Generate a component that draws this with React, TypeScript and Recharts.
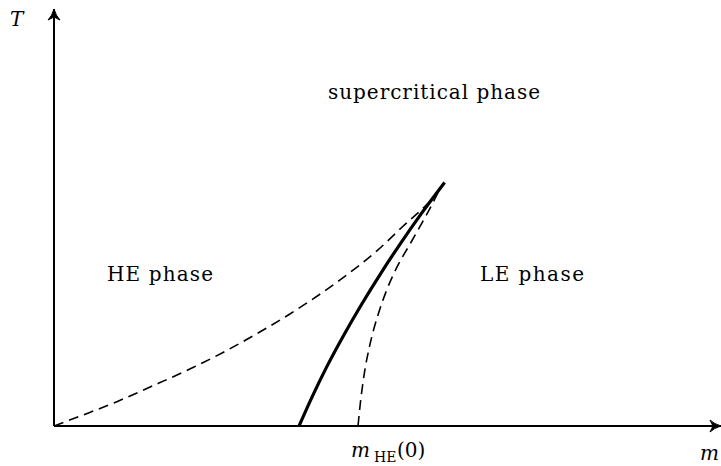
import { ComposedChart, Line, XAxis, YAxis, ReferenceDot, ReferenceLine } from 'recharts'

// m measured in units of m_HE(0), T in units of the critical temperature
const spinodalHE = [
  { m: 0, T: 0 },
  { m: 0.095, T: 0.045 },
  { m: 0.207, T: 0.1 },
  { m: 0.316, T: 0.16 },
  { m: 0.457, T: 0.24 },
  { m: 0.556, T: 0.302 },
  { m: 0.635, T: 0.356 },
  { m: 0.776, T: 0.46 },
  { m: 0.941, T: 0.6 },
  { m: 1.063, T: 0.72 },
  { m: 1.148, T: 0.82 },
  { m: 1.227, T: 0.91 },
  { m: 1.26, T: 0.955 },
]

const coexistence = [
  { m: 0.806, T: 0 },
  { m: 0.851, T: 0.125 },
  { m: 0.9, T: 0.25 },
  { m: 0.954, T: 0.375 },
  { m: 1.012, T: 0.5 },
  { m: 1.074, T: 0.625 },
  { m: 1.14, T: 0.75 },
  { m: 1.21, T: 0.875 },
  { m: 1.285, T: 1.0 },
]

const spinodalLE = [
  { m: 1.0, T: 0 },
  { m: 1.007, T: 0.086 },
  { m: 1.02, T: 0.21 },
  { m: 1.039, T: 0.333 },
  { m: 1.066, T: 0.457 },
  { m: 1.095, T: 0.56 },
  { m: 1.128, T: 0.652 },
  { m: 1.171, T: 0.747 },
  { m: 1.211, T: 0.835 },
  { m: 1.247, T: 0.918 },
  { m: 1.263, T: 0.959 },
]

const mMax = 2.194
const tMax = 1.712

const font = '"DejaVu Serif", "Liberation Serif", serif'

const ArrowRight = ({ cx, cy }: any) => (
  <path
    d={`M ${cx} ${cy} Q ${cx - 7} ${cy - 2} ${cx - 11} ${cy - 6} L ${cx - 8} ${cy} L ${cx - 11} ${cy + 6} Q ${cx - 7} ${cy + 2} ${cx} ${cy} Z`}
    fill="#000"
    stroke="#000"
    strokeWidth={1}
  />
)

const ArrowUp = ({ cx, cy }: any) => (
  <path
    d={`M ${cx} ${cy} Q ${cx - 2} ${cy + 7} ${cx - 6} ${cy + 11} L ${cx} ${cy + 8} L ${cx + 6} ${cy + 11} Q ${cx + 2} ${cy + 7} ${cx} ${cy} Z`}
    fill="#000"
    stroke="#000"
    strokeWidth={1}
  />
)

export default function App() {
  return (
    <div style={{ position: 'fixed', left: 0, top: 0, width: 721, height: 466, background: '#fff' }}>
      <ComposedChart width={721} height={466} margin={{ top: 9, right: 0, bottom: 40, left: 54 }}>
        <XAxis type="number" dataKey="m" domain={[0, mMax]} allowDataOverflow hide />
        <YAxis type="number" dataKey="T" domain={[0, tMax]} allowDataOverflow hide />
        <ReferenceLine y={0} stroke="#000" strokeWidth={2} ifOverflow="visible" />
        <ReferenceLine x={0} stroke="#000" strokeWidth={2} ifOverflow="visible" />
        <Line
          data={spinodalHE}
          dataKey="T"
          type="monotone"
          stroke="#000"
          strokeWidth={1.6}
          strokeDasharray="10 6"
          dot={false}
          isAnimationActive={false}
        />
        <Line
          data={spinodalLE}
          dataKey="T"
          type="monotone"
          stroke="#000"
          strokeWidth={1.6}
          strokeDasharray="10 6"
          dot={false}
          isAnimationActive={false}
        />
        <Line
          data={coexistence}
          dataKey="T"
          type="monotone"
          stroke="#000"
          strokeWidth={3.2}
          dot={false}
          isAnimationActive={false}
        />
        <ReferenceDot x={mMax} y={0} ifOverflow="visible" shape={ArrowRight} />
        <ReferenceDot x={0} y={tMax} ifOverflow="visible" shape={ArrowUp} />
      </ComposedChart>
      <svg width={721} height={466} style={{ position: 'absolute', left: 0, top: 0, pointerEvents: 'none' }}>
        <g fontFamily={font} fontSize={20} fill="#000">
          <text x={10} y={26} fontStyle="italic">T</text>
          <text x={700} y={460} fontStyle="italic">m</text>
          <text x={328} y={99} textLength={212} lengthAdjust="spacing">supercritical phase</text>
          <text x={107} y={281} textLength={106} lengthAdjust="spacing">HE phase</text>
          <text x={480} y={281} textLength={104} lengthAdjust="spacing">LE phase</text>
          <text x={351} y={457} fontStyle="italic">m</text>
          <text x={374} y={462} fontSize={14}>HE</text>
          <text x={397} y={457}>(0)</text>
        </g>
      </svg>
    </div>
  )
}
